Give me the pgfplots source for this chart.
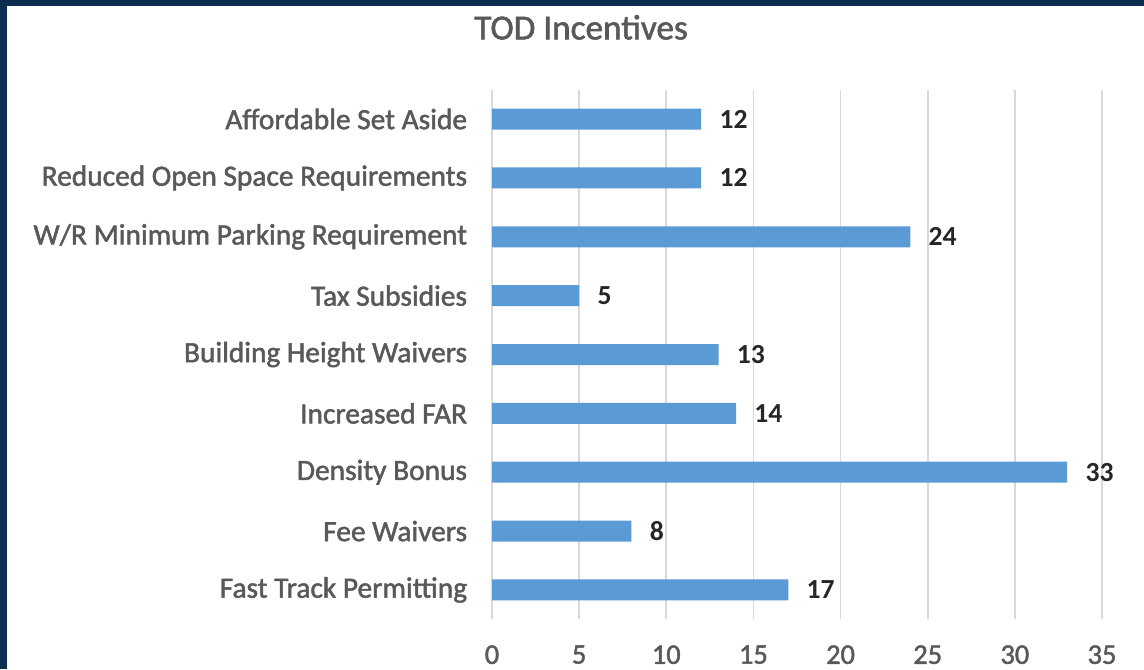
\documentclass[border=0pt]{standalone}
\usepackage{pgfplots}
\pgfplotsset{compat=1.18}
\usepackage{pgfplotstable}
\usepackage{fontspec}
\setmainfont{Carlito}
\newfontfamily\heavy[RawFeature={embolden=1.6}]{Carlito}

\definecolor{navy}{HTML}{0A2D50}
\definecolor{barblue}{HTML}{5B9BD5}
\definecolor{gridgray}{HTML}{D9D9D9}
\definecolor{labelgray}{HTML}{595959}
\definecolor{valgray}{HTML}{262626}

% bottom to top
\pgfplotstableread{
idx value
0 17
1 8
2 33
3 14
4 13
5 5
6 24
7 12
8 12
}\todtable

\begin{document}
\begin{tikzpicture}
\useasboundingbox (0pt,0pt) rectangle (572pt,334.5pt);
\fill[navy] (0pt,0pt) rectangle (572pt,334.5pt);
\fill[white] (3.5pt,0pt) rectangle (572pt,331.5pt);
\node[anchor=base, font=\heavy\fontsize{17.6}{20}\selectfont, text=labelgray]
  at (290.5pt,314.8pt) {TOD Incentives};
\begin{axis}[
    at={(246pt,24.8pt)}, anchor=south west,
    scale only axis,
    width=305pt, height=264.9pt,
    xbar, bar width=10.5pt,
    xmin=0, xmax=35,
    ymin=-0.5, ymax=8.5,
    xtick={0,5,...,35},
    ytick={0,...,8},
    yticklabels={Fast Track Permitting, Fee Waivers, Density Bonus, Increased FAR,
      Building Height Waivers, Tax Subsidies, W/R Minimum Parking Requirement,
      Reduced Open Space Requirements, Affordable Set Aside},
    axis line style={draw=none},
    major tick style={draw=none},
    xmajorgrids=true,
    grid style={gridgray, line width=0.9pt},
    /pgf/number format/assume math mode=true,
    xticklabel style={anchor=north, inner sep=0pt, yshift=-12.8pt,
      font=\heavy\fontsize{14.2}{16}\selectfont, text=labelgray},
    yticklabel style={anchor=east, inner sep=0pt, xshift=-8pt,
      font=\heavy\fontsize{14.7}{17}\selectfont, text=labelgray},
    nodes near coords,
    every node near coord/.append style={anchor=west, inner sep=0pt, xshift=9pt,
      font=\bfseries\fontsize{13.8}{16}\selectfont, text=valgray},
]
\addplot[fill=barblue, draw=none] table[x=value, y=idx] {\todtable};
\end{axis}
\end{tikzpicture}
\end{document}
